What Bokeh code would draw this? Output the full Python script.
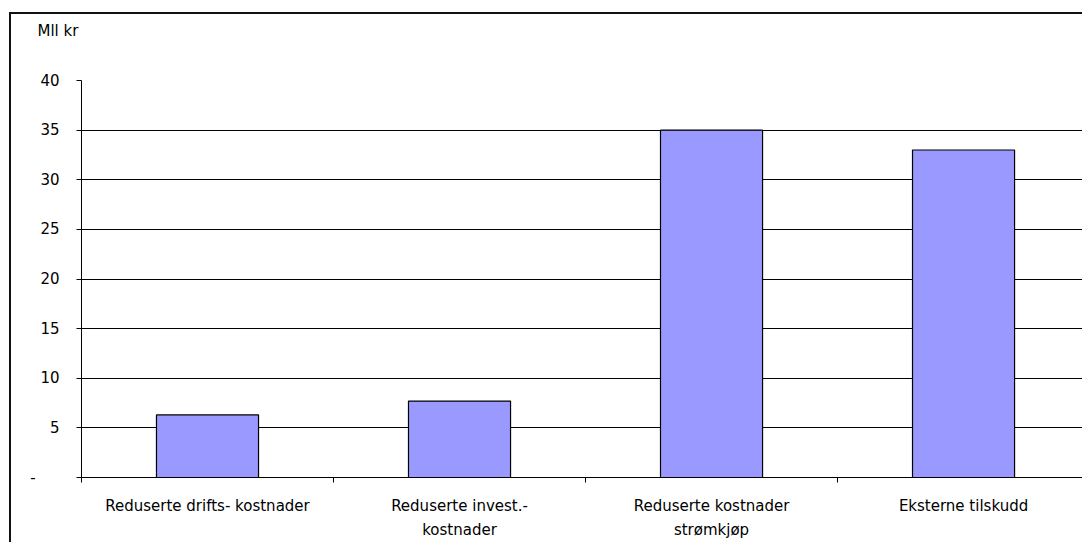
from bokeh.plotting import figure
from bokeh.models import Range1d, FixedTicker, Title
from bokeh.embed import file_html
from bokeh.resources import INLINE

categories = ["Reduserte drifts- kostnader", "Reduserte invest.-\nkostnader",
              "Reduserte kostnader\nstrømkjøp", "Eksterne tilskudd"]
values = [6.3, 7.7, 35.0, 33.0]
y_ticks = [0, 5, 10, 15, 20, 25, 30, 35, 40]
y_tick_labels = ["-\u00a0\u00a0\u00a0\u00a0\u00a0", "5", "10", "15", "20", "25", "30", "35", "40"]
unit_label = "Mll kr"

FONT = "DejaVu Sans"
FS = "15px"
xs = [i + 0.5 for i in range(len(categories))]
bounds = [float(i) for i in range(len(categories) + 1)]

p = figure(width=1073, height=530, x_range=Range1d(0, 3.980), y_range=Range1d(0, 40),
           output_backend="svg", toolbar_location=None, title=unit_label,
           min_border_left=70, min_border_top=66, min_border_bottom=67, min_border_right=0)
p.styles = {"border-left": "2px solid #111", "border-top": "2px solid #111"}
p.margin = (12, 0, 0, 9)

p.title.align = "left"
p.title.offset = -44
p.title.standoff = 0
p.title.text_font = FONT
p.title.text_font_size = FS
p.title.text_font_style = "normal"
p.title.text_color = "#000000"

# empty spacer between the unit label and the plot frame
p.add_layout(Title(text=" ", standoff=22, text_font_size=FS), "above")

p.vbar(x=xs, top=values, width=0.405, fill_color="#9999FF", line_color="#000000", line_width=1.2)

p.outline_line_color = None
p.xgrid.visible = False
p.ygrid.ticker = FixedTicker(ticks=y_ticks)
p.ygrid.grid_line_color = "#000000"
p.ygrid.grid_line_width = 1

ya = p.yaxis[0]
ya.ticker = FixedTicker(ticks=y_ticks, minor_ticks=[])
ya.major_label_overrides = {float(t): l for t, l in zip(y_ticks, y_tick_labels)}
ya.major_tick_out = 5
ya.major_tick_in = 0
ya.minor_tick_out = 0
ya.axis_line_color = "#000000"
ya.major_tick_line_color = "#000000"
ya.major_label_standoff = 17
ya.major_label_text_font = FONT
ya.major_label_text_font_size = FS
ya.major_label_text_color = "#000000"

xa = p.xaxis[0]
xa.ticker = FixedTicker(ticks=xs, minor_ticks=bounds)
xa.major_label_overrides = {float(x): c for x, c in zip(xs, categories)}
xa.major_tick_line_color = None
xa.minor_tick_out = 5
xa.minor_tick_in = 0
xa.minor_tick_line_color = "#000000"
xa.axis_line_color = "#000000"
xa.major_label_standoff = 13
xa.major_label_text_font = FONT
xa.major_label_text_font_size = FS
xa.major_label_text_line_height = 1.35
xa.major_label_text_color = "#000000"

open("out.html", "w").write(file_html(p, INLINE))
